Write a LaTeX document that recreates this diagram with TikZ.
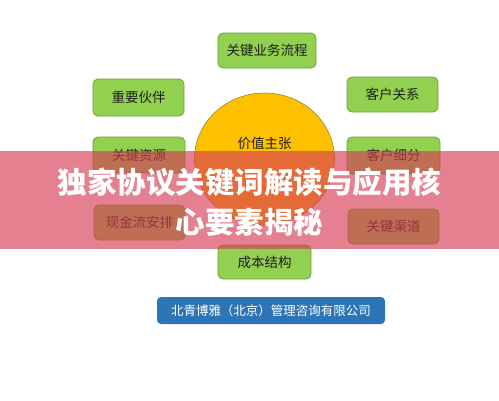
\documentclass[tikz,border=0pt]{standalone}
\usepackage{fontspec}
\usetikzlibrary{shapes.geometric}
\setmainfont{Noto Sans CJK SC}
\newfontfamily\cjk{Noto Sans CJK SC}
\definecolor{boxgreen}{RGB}{146,208,80}
\definecolor{boxline}{RGB}{110,160,60}
\definecolor{circfill}{RGB}{255,192,0}
\definecolor{circline}{RGB}{150,140,40}
\definecolor{blueco}{RGB}{46,117,182}
\definecolor{bannerred}{RGB}{215,60,85}
\definecolor{txt}{RGB}{30,30,30}
\tikzset{
  gbox/.style={draw=boxline, fill=boxgreen, rounded corners=5pt, line width=0.8pt,
    inner sep=0pt, text=txt, font=\cjk\fontsize{13.5}{16}\selectfont},
}
\begin{document}
\begin{tikzpicture}[x=1pt,y=-1pt]
\useasboundingbox (0,0) rectangle (499,400);
\fill[white] (0,0) rectangle (499,400);
% central ellipse
\node[draw=circline, fill=circfill, ellipse, line width=0.6pt, minimum width=140pt, minimum height=132pt, inner sep=0pt] (vp) at (264.5,159) {};
\node[text=txt, font=\cjk\fontsize{13.5}{16}\selectfont] (vpt) at (264.5,143) {价值主张};
% boxes
\node[gbox, minimum width=98pt, minimum height=35pt] (ka) at (267,50.5) {关键业务流程};
\node[gbox, minimum width=91pt, minimum height=37pt] (kp) at (138.5,97.5) {重要伙伴};
\node[gbox, minimum width=91pt, minimum height=35pt] (cr) at (392.5,94.5) {客户关系};
\node[gbox, minimum width=92pt, minimum height=36pt] (kr) at (139,155) {关键资源};
\node[gbox, minimum width=93pt, minimum height=37pt] (cs) at (393.5,155.5) {客户细分};
\node[gbox, minimum width=91pt, minimum height=35pt] (cf) at (139.5,222.5) {现金流安排};
\node[gbox, minimum width=91pt, minimum height=35pt] (ch) at (393.5,226.5) {关键渠道};
\node[gbox, minimum width=93pt, minimum height=34pt] (cost) at (264.5,262) {成本结构};
\node[fill=blueco, rounded corners=4pt, inner sep=0pt, minimum width=228pt, minimum height=27pt,
  text=white, font=\cjk\fontsize{12.5}{15}\selectfont] (co) at (271,310.5) {北青博雅（北京）管理咨询有限公司};
% banner
\fill[bannerred, opacity=0.65] (0,151) rectangle (499,249);
\node[text=white, font=\cjk\bfseries\fontsize{29.5}{40}\selectfont, align=center, inner sep=0pt] (title) at (249.5,202) {独家协议关键词解读与应用核\\心要素揭秘};
\end{tikzpicture}
\end{document}
